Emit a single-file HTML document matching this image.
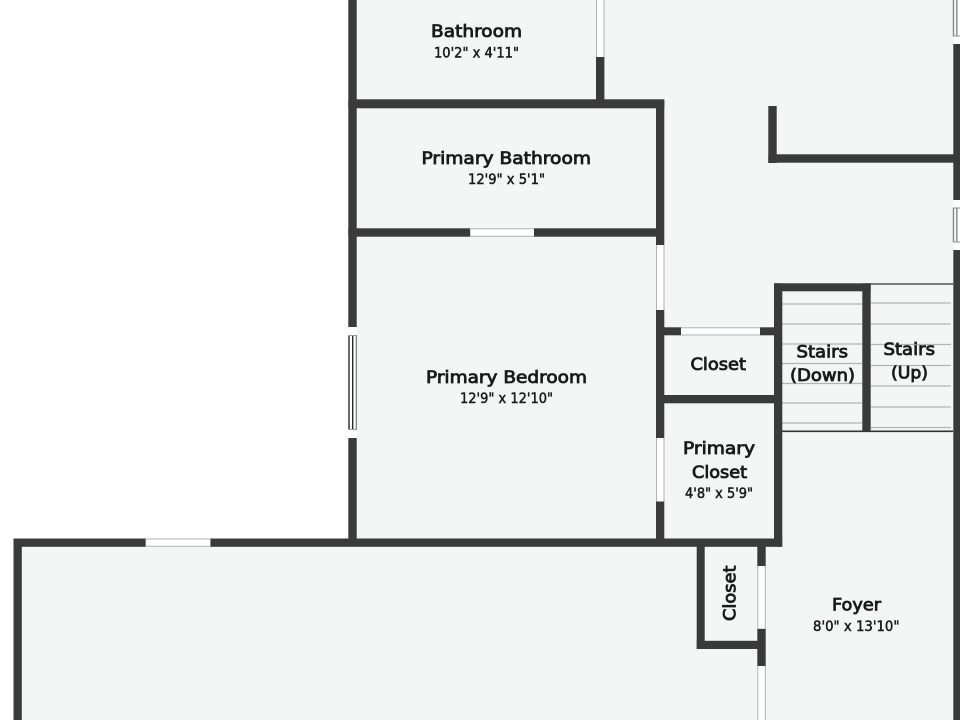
<!DOCTYPE html>
<html lang="en">
<head>
<meta charset="utf-8">
<title>Floor plan</title>
<style>
html,body{margin:0;padding:0;background:#fff;width:960px;height:720px;overflow:hidden}
svg{display:block}
text{font-family:"DejaVu Sans","Liberation Sans",sans-serif;fill:#1a1a1a;stroke:#1a1a1a;text-anchor:start}
.n{font-size:17px;stroke-width:.85px}
.d{font-size:14px;stroke-width:.5px}
</style>
</head>
<body>
<svg width="960" height="720" viewBox="0 0 960 720" xmlns="http://www.w3.org/2000/svg">
<rect width="960" height="720" fill="#fff"/>
<!-- floor -->
<path d="M352 0H960V720H18V542H352Z" fill="#f4f6f5"/>

<!-- stair treads -->
<g stroke="#b4b4b4" stroke-width="1.2" fill="none">
<path d="M782 304H862M782 324H862M782 344H862M782 363.5H862M782 383.5H862M782 403H862M782 423H862"/>
<path d="M871 303H951M871 324H951M871 344.5H951M871 365.5H951M871 386H951M871 407H951M871 427.5H951"/>
</g>
<path d="M870 284H953" stroke="#333" stroke-width="1.2"/>
<path d="M782 431.3H953" stroke="#333" stroke-width="1.6"/>

<!-- walls -->
<g fill="#3a3a3a">
<!-- primary left wall -->
<rect x="348.3" y="0" width="8.4" height="327"/>
<rect x="348.3" y="438" width="8.4" height="108"/>
<!-- horizontal at bath/primary bath -->
<rect x="348.3" y="99.3" width="316" height="9"/>
<rect x="596" y="57" width="8.4" height="44"/>
<!-- primary bath bottom -->
<rect x="348.3" y="228.3" width="122" height="8.4"/>
<rect x="534" y="228.3" width="124" height="8.4"/>
<!-- right wall of primary rooms -->
<rect x="656" y="100" width="8.3" height="145"/>
<rect x="656" y="310" width="8.3" height="128"/>
<rect x="656" y="501.5" width="8.3" height="45"/>
<!-- closet -->
<rect x="664" y="327.3" width="17" height="8"/>
<rect x="760" y="327.3" width="16" height="8"/>
<rect x="664" y="395" width="112" height="8.3"/>
<!-- stairs -->
<rect x="774" y="283.3" width="8.3" height="263.4"/>
<rect x="774" y="283.3" width="96.7" height="8"/>
<rect x="862.3" y="283.3" width="8.4" height="148"/>
<!-- stub -->
<rect x="768.3" y="106" width="8.4" height="57"/>
<rect x="768.3" y="154.3" width="186" height="8.4"/>
<!-- exterior right -->
<rect x="953.3" y="44" width="6.7" height="156"/>
<rect x="953.3" y="250" width="6.7" height="470"/>
<!-- long horizontal -->
<rect x="13.5" y="538.5" width="132.3" height="8.3"/>
<rect x="210.3" y="538.5" width="571.9" height="8.3"/>
<rect x="13.5" y="538.5" width="8.3" height="181.5"/>
<!-- lower closet -->
<rect x="696.7" y="546" width="8" height="103"/>
<rect x="696.7" y="640.8" width="62" height="8.2"/>
<rect x="757.3" y="546" width="8.4" height="20"/>
<rect x="757.3" y="628.7" width="8.4" height="37.3"/>
</g>

<!-- door / window openings -->
<g fill="#fff">
<rect x="596" y="0" width="8.4" height="57"/>
<rect x="470.3" y="228.3" width="63.7" height="8.4"/>
<rect x="656" y="245" width="8.3" height="65"/>
<rect x="656" y="438" width="8.3" height="63.5"/>
<rect x="681" y="327.3" width="79" height="8"/>
<rect x="145.8" y="538.5" width="64.5" height="8.3"/>
<rect x="757.3" y="566" width="8.4" height="62.7"/>
<rect x="757.3" y="666" width="8.4" height="54"/>
<rect x="348.3" y="327" width="8.4" height="111"/>
<rect x="953.3" y="0" width="6.7" height="44"/>
<rect x="953.3" y="200" width="6.7" height="50"/>
</g>
<g stroke="#b2b2b2" stroke-width="1" fill="none">
<path d="M596.5 0V57M604 0V57"/>
<path d="M470.3 228.8H534M470.3 236.3H534"/>
<path d="M656.5 245V310M664 245V310"/>
<path d="M656.5 438V501.5M664 438V501.5"/>
<path d="M681 327.8H760M681 335H760"/>
<path d="M145.8 539H210.3M145.8 546.3H210.3"/>
<path d="M757.8 566V628.7M765.3 566V628.7"/>
<path d="M757.8 666V720M765.3 666V720"/>
</g>
<!-- exterior right windows -->
<g stroke="#8c8c8c" stroke-width="1.5" fill="none">
<path d="M953.5 0V36M956.8 0V36M953.5 208V242M956.8 208V242"/>
<path d="M953 36H960M953 208H960M953 242H960" stroke-width="1"/>
</g>
<!-- primary bedroom window -->
<g fill="none">
<path d="M349 335V430M352.7 335V430" stroke="#2a2a2a" stroke-width="1.4"/>
<path d="M356.3 335V430" stroke="#777" stroke-width="1.2"/>
<path d="M348.5 335.5H356.5M348.5 429.5H356.5" stroke="#999" stroke-width="1"/>
</g>

<!-- labels -->
<text class="n" x="431" y="37" textLength="91" lengthAdjust="spacingAndGlyphs">Bathroom</text>
<text class="d" x="434" y="57.5" textLength="85" lengthAdjust="spacingAndGlyphs">10'2" x 4'11"</text>
<text class="n" x="421.5" y="164" textLength="169.5" lengthAdjust="spacingAndGlyphs">Primary Bathroom</text>
<text class="d" x="468" y="184" textLength="77" lengthAdjust="spacingAndGlyphs">12'9" x 5'1"</text>
<text class="n" x="426" y="383" textLength="161" lengthAdjust="spacingAndGlyphs">Primary Bedroom</text>
<text class="d" x="460" y="403" textLength="93" lengthAdjust="spacingAndGlyphs">12'9" x 12'10"</text>
<text class="n" x="690.5" y="370" textLength="55.5" lengthAdjust="spacingAndGlyphs">Closet</text>
<text class="n" x="683" y="454" textLength="72" lengthAdjust="spacingAndGlyphs">Primary</text>
<text class="n" x="692" y="478" textLength="55" lengthAdjust="spacingAndGlyphs">Closet</text>
<text class="d" x="685" y="498" textLength="68" lengthAdjust="spacingAndGlyphs">4'8" x 5'9"</text>
<text class="n" x="796.5" y="357.5" textLength="51.5" lengthAdjust="spacingAndGlyphs">Stairs</text>
<text class="n" x="790" y="381" textLength="65" lengthAdjust="spacingAndGlyphs">(Down)</text>
<text class="n" x="883.5" y="355" textLength="51.5" lengthAdjust="spacingAndGlyphs">Stairs</text>
<text class="n" x="891" y="378.5" textLength="37" lengthAdjust="spacingAndGlyphs">(Up)</text>
<text class="n" x="832" y="610.5" textLength="49" lengthAdjust="spacingAndGlyphs">Foyer</text>
<text class="d" x="813" y="631" textLength="86.5" lengthAdjust="spacingAndGlyphs">8'0" x 13'10"</text>
<text class="n" transform="translate(735.5 621) rotate(-90)" x="0" y="0" textLength="55.5" lengthAdjust="spacingAndGlyphs">Closet</text>
</svg>
</body>
</html>
